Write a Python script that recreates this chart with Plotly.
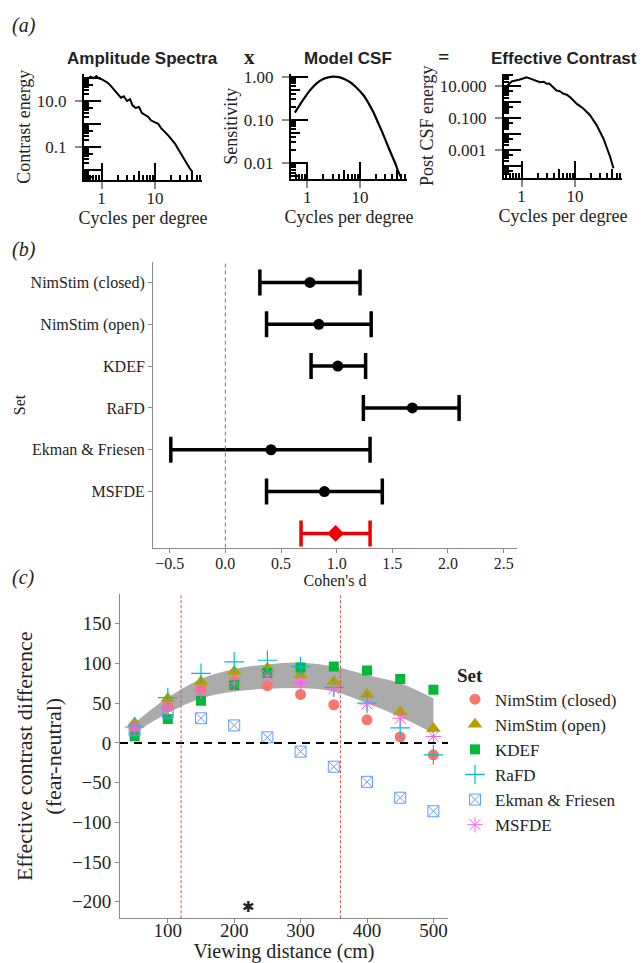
import plotly.graph_objects as go

W, H = 644, 963
SERIF = "Liberation Serif"
SANS = "Liberation Sans"

# ---------------- Panel (a) data ----------------
amp_freq = [0.55, 0.62, 0.7, 0.8, 0.9, 1.0, 1.15, 1.3, 1.5, 1.7, 2.0, 2.3, 2.6, 3.0, 3.4, 3.8,
            4.3, 5.0, 5.7, 6.5, 7.5, 8.5, 10, 11.5, 13, 15, 17.5, 20, 24, 28, 33, 38, 44, 50]
amp_energy = [95, 115, 100, 120, 95, 90, 75, 62, 45, 32, 22, 14, 16, 10, 12, 6.5,
              5.0, 5.5, 3.0, 2.4, 2.0, 1.4, 1.2, 1.0, 0.65, 0.48, 0.32, 0.22, 0.13, 0.07,
              0.035, 0.02, 0.012, 0.008]

csf_freq = [0.58, 0.7, 0.85, 1.12, 1.5, 2.0, 2.5, 3.1, 4.0, 5.0, 6.5, 8.5, 11.6, 14.5, 17.9,
            22, 27.8, 34, 40, 47, 53, 60]
csf_sens = [0.146, 0.21, 0.3, 0.48, 0.7, 0.88, 0.96, 1.0, 0.97, 0.88, 0.74, 0.56, 0.37, 0.24,
            0.15, 0.085, 0.044, 0.024, 0.015, 0.0095, 0.0063, 0.0047]

eff_freq = [0.54, 0.65, 0.93, 1.24, 1.5, 1.78, 2.2, 2.6, 2.95, 3.3, 3.66, 4.5, 5.2, 6.0, 7.0,
            8.05, 10.7, 14.3, 19.1, 25.5, 34, 45.4, 52.5]
eff_energy = [11.5, 20.5, 27.4, 38, 30, 23.7, 18.6, 20, 14.7, 15.5, 11.5, 5.6, 5.0, 3.5, 3.0,
              2.15, 0.83, 0.41, 0.155, 0.036, 0.0054, 0.00038, 0.000072]

# ---------------- Panel (b) data ----------------
sets = ["NimStim (closed)", "NimStim (open)", "KDEF", "RaFD", "Ekman & Friesen", "MSFDE"]
cohen_d = [0.76, 0.84, 1.01, 1.68, 0.41, 0.89]
ci_low = [0.31, 0.37, 0.77, 1.24, -0.49, 0.37]
ci_high = [1.21, 1.31, 1.26, 2.10, 1.30, 1.41]
summary_d = [0.99]
summary_low = [0.68]
summary_high = [1.30]

# ---------------- Panel (c) data ----------------
distances = [50, 100, 150, 200, 250, 300, 350, 400, 450, 500]
nim_closed = [18, 46, 68, 78, 72, 61, 48, 29, 7.5, -15]
nim_open = [25, 56, 77, 90, 94, 85.5, 77, 61, 39, 18]
kdef = [8.4, 30, 53, 73, 88, 95, 96, 91, 80.5, 67]
rafd = [20, 57, 87.5, 102, 104, 96, 70, 50, 19, -15]
ekman = [16, 38, 31, 22, 7, -11, -30, -49, -69, -86]
msfde = [19, 44, 65, 75, 85, 76, 68, 49, 31, 8]
ribbon_upper = [25, 57, 80.5, 93, 98.8, 101, 96, 85.5, 75, 56]
ribbon_lower = [12.5, 37.5, 56, 64.6, 68, 69, 64.6, 50, 33, 12]
distance_markers = [120, 360]
star_pos = (221, -206)


def xd(a, b):
    return [a / W, b / W]


def yd(top, bottom):
    return [1 - bottom / H, 1 - top / H]


fig = go.Figure()

# Panel (a) curves
fig.add_trace(go.Scatter(x=amp_freq, y=amp_energy, mode="lines", line=dict(color="black", width=2),
                         xaxis="x", yaxis="y", showlegend=False))
fig.add_trace(go.Scatter(x=csf_freq, y=csf_sens, mode="lines", line=dict(color="black", width=2.2, shape="spline"),
                         xaxis="x2", yaxis="y2", showlegend=False))
fig.add_trace(go.Scatter(x=eff_freq, y=eff_energy, mode="lines", line=dict(color="black", width=2),
                         xaxis="x3", yaxis="y3", showlegend=False))

# Panel (b)
ypos = list(range(len(sets)))
fig.add_trace(go.Scatter(
    x=cohen_d, y=ypos, mode="markers",
    marker=dict(symbol="circle", size=11, color="black"),
    error_x=dict(type="data", symmetric=False,
                 array=[h - d for h, d in zip(ci_high, cohen_d)],
                 arrayminus=[d - l for d, l in zip(cohen_d, ci_low)],
                 color="black", thickness=3.5, width=13),
    xaxis="x4", yaxis="y4", showlegend=False))
fig.add_trace(go.Scatter(
    x=summary_d, y=[len(sets)], mode="markers",
    marker=dict(symbol="diamond", size=13, color="#ee0000"),
    error_x=dict(type="data", symmetric=False,
                 array=[h - d for h, d in zip(summary_high, summary_d)],
                 arrayminus=[d - l for d, l in zip(summary_d, summary_low)],
                 color="#ee0000", thickness=3.5, width=13),
    xaxis="x4", yaxis="y4", showlegend=False))

# Panel (c)
fig.add_trace(go.Scatter(x=distances, y=ribbon_lower, mode="lines", line=dict(width=0, color="#ababab", shape="spline"),
                         xaxis="x5", yaxis="y5", showlegend=False, hoverinfo="skip"))
fig.add_trace(go.Scatter(x=distances, y=ribbon_upper, mode="lines", line=dict(width=0, color="#ababab", shape="spline"),
                         fill="tonexty", fillcolor="#ababab",
                         xaxis="x5", yaxis="y5", showlegend=False, hoverinfo="skip"))

series = [
    ("NimStim (closed)", nim_closed, dict(symbol="circle", size=11, color="#F8766D")),
    ("NimStim (open)", nim_open, dict(symbol="triangle-up", size=13, color="#B79F00")),
    ("KDEF", kdef, dict(symbol="square", size=10, color="#00BA38")),
    ("RaFD", rafd, dict(symbol="cross-thin", size=14, color="#00BFC4", line=dict(color="#00BFC4", width=1.2))),
    ("Ekman & Friesen", ekman, dict(symbol="square-x-open", size=11, color="#619CFF", line=dict(color="#619CFF", width=1))),
    ("MSFDE", msfde, dict(symbol="asterisk-open", size=13, color="#F564E3", line=dict(color="#F564E3", width=1))),
]
for name, vals, mk in series:
    fig.add_trace(go.Scatter(x=distances, y=vals, mode="markers", name=name, marker=mk,
                             xaxis="x5", yaxis="y5"))

tickfont_a = dict(family=SERIF, size=17, color="#222")
titlefont_a = dict(family=SERIF, size=18, color="#222")


def log_axis(domain, rng, tickvals, ticktext, anchor, title, standoff, lstand):
    return dict(
        domain=domain, type="log", range=rng, anchor=anchor,
        showline=True, linecolor="black", linewidth=2,
        ticks="outside", ticklen=7, tickwidth=1.5, tickcolor="#8a8a8a",
        tickmode="array", tickvals=tickvals, ticktext=ticktext,
        showgrid=False, zeroline=False, tickfont=tickfont_a, ticklabelstandoff=lstand,
        title=dict(text=title, font=titlefont_a, standoff=standoff),
    )


def decade_ticks(rng, digits):
    lo, hi = int(rng[0]) - 1, int(rng[1]) + 1
    return [d * 10.0 ** k for k in range(lo, hi + 1) for d in digits]


layout = dict(
    width=W, height=H, margin=dict(l=0, r=0, t=0, b=0),
    paper_bgcolor="white", plot_bgcolor="white",
    xaxis4=dict(domain=xd(153, 517), range=[-0.65, 2.62], anchor="y4",
                showline=True, linecolor="#8a8a8a", linewidth=1, ticks="outside", ticklen=4,
                tickcolor="#8a8a8a", dtick=0.5, tickformat=".1f", showgrid=False, zeroline=False,
                tickfont=dict(family=SERIF, size=16, color="#222"), ticklabelstandoff=-3,
                title=dict(text="Cohen's d", font=dict(family=SERIF, size=16, color="#222"), standoff=0)),
    yaxis4=dict(domain=yd(258, 545), range=[6.34, -0.48], anchor="x4",
                showline=True, linecolor="#8a8a8a", linewidth=1, ticks="outside", ticklen=4,
                tickcolor="#8a8a8a", tickmode="array", tickvals=ypos, ticktext=sets,
                showgrid=False, zeroline=False,
                tickfont=dict(family=SERIF, size=16, color="#222"),
                title=dict(text="Set", font=dict(family=SERIF, size=16, color="#222"), standoff=0)),
    xaxis5=dict(domain=xd(120, 448), range=[28, 522], anchor="y5",
                showline=True, linecolor="#8a8a8a", linewidth=1, ticks="outside", ticklen=4,
                tickcolor="#8a8a8a", tickvals=[100, 200, 300, 400, 500], showgrid=False, zeroline=False,
                tickfont=dict(family=SERIF, size=19, color="#222"), ticklabelstandoff=-9,
                title=dict(text="Viewing distance (cm)", font=dict(family=SERIF, size=20, color="#222"), standoff=0)),
    yaxis5=dict(domain=yd(592, 918), range=[-220.7, 187], anchor="x5",
                showline=True, linecolor="#8a8a8a", linewidth=1, ticks="outside", ticklen=4,
                tickcolor="#8a8a8a", dtick=50, showgrid=False, zeroline=False,
                tickfont=dict(family=SERIF, size=19, color="#222"),
                title=dict(text="Effective contrast difference<br>(fear-neutral)",
                           font=dict(family=SERIF, size=22, color="#222"), standoff=4)),
    legend=dict(x=455 / W, y=1 - 655 / H, xanchor="left", yanchor="top", traceorder="normal",
                font=dict(family=SERIF, size=17, color="#222"),
                title=dict(text="<b>Set</b>", font=dict(family=SERIF, size=19, color="#222")),
                bgcolor="rgba(0,0,0,0)"),
)

# Panel (a) log axes
log_panels = [
    # (suffix, xdomain, xrange, ydomain, yrange, ytickvals, yticktext, ytitle)
    ("", xd(84, 202), [-0.33, 1.88], yd(68, 175), [-2.45, 2.2], [0.1, 10], ["0.1", "10.0"], "Contrast energy"),
    ("2", xd(291, 407), [-0.31, 1.89], yd(68, 174), [-2.37, 0.07], [0.01, 0.1, 1], ["0.01", "0.10", "1.00"], "Sensitivity"),
    ("3", xd(504, 622), [-0.33, 1.88], yd(68, 173), [-4.75, 1.81], [1e-3, 0.1, 10], ["0.001", "0.100", "10.000"], "Post CSF energy"),
]
# logtick levels: (digits, length)
levels = [([1], 17), ([5], 9), ([2, 3, 4, 6, 7, 8, 9], 5)]
next_id = 6
for suf, xdom, xr, ydom, yr, ytv, ytt, ytitle in log_panels:
    layout["xaxis" + suf] = log_axis(xdom, xr, [1, 10], ["1", "10"], "y" + suf, "Cycles per degree", 0, -5)
    layout["yaxis" + suf] = log_axis(ydom, yr, ytv, ytt, "x" + suf, ytitle, 2, 5)
    for digits, ln in levels:
        i = str(next_id)
        next_id += 1
        common = dict(type="log", showline=False, showgrid=False, zeroline=False, showticklabels=False,
                      ticks="inside", ticklen=ln, tickwidth=1.6, tickcolor="black", tickmode="array")
        layout["xaxis" + i] = dict(overlaying="x" + suf, anchor="y" + suf, range=xr,
                                   tickvals=decade_ticks(xr, digits), **common)
        layout["yaxis" + i] = dict(overlaying="y" + suf, anchor="x" + suf, range=yr,
                                   tickvals=decade_ticks(yr, digits), **common)
        fig.add_trace(go.Scatter(x=[], y=[], xaxis="x" + i, yaxis="y" + i, showlegend=False, hoverinfo="skip"))

fig.update_layout(**layout)

# reference lines
fig.add_shape(type="line", xref="x4", yref="y4 domain", x0=0, x1=0, y0=0, y1=1,
              line=dict(color="#777", width=1, dash="4px,3px"))
fig.add_shape(type="line", xref="x5 domain", yref="y5", x0=0, x1=1, y0=0, y1=0,
              line=dict(color="black", width=2, dash="8px,6px"))
for d in distance_markers:
    fig.add_shape(type="line", xref="x5", yref="y5 domain", x0=d, x1=d, y0=0, y1=1,
                  line=dict(color="#d45050", width=1, dash="3px,2px"))

# texts
ann = [
    dict(text="<i>(a)</i>", x=10 / W, y=1 - 20 / H),
    dict(text="<i>(b)</i>", x=10 / W, y=1 - 245 / H),
    dict(text="<i>(c)</i>", x=10 / W, y=1 - 575 / H),
]
for a in ann:
    fig.add_annotation(xref="paper", yref="paper", xanchor="left", yanchor="middle", showarrow=False,
                       font=dict(family=SERIF, size=20, color="#222"), **a)
titles = [("Amplitude Spectra", 142), ("Model CSF", 348), ("Effective Contrast", 564)]
for t, xc in titles:
    fig.add_annotation(xref="paper", yref="paper", x=xc / W, y=1 - 53 / H, text="<b>" + t + "</b>",
                       showarrow=False, xanchor="center", yanchor="middle",
                       font=dict(family=SANS, size=17, color="#222"))
for t, xc, sz in [("x", 249, 21), ("=", 443, 20)]:
    fig.add_annotation(xref="paper", yref="paper", x=xc / W, y=1 - 51 / H, text="<b>" + t + "</b>",
                       showarrow=False, xanchor="center", yanchor="middle",
                       font=dict(family=SERIF, size=sz, color="#222"))
fig.add_annotation(xref="x5", yref="y5", x=star_pos[0], y=star_pos[1], text="✱", showarrow=False,
                   xanchor="center", yanchor="middle",
                   font=dict(family="DejaVu Sans", size=15, color="#222"))

fig.write_html("out.html", config={"displayModeBar": False},
               post_script="document.body.style.margin='0px';")
